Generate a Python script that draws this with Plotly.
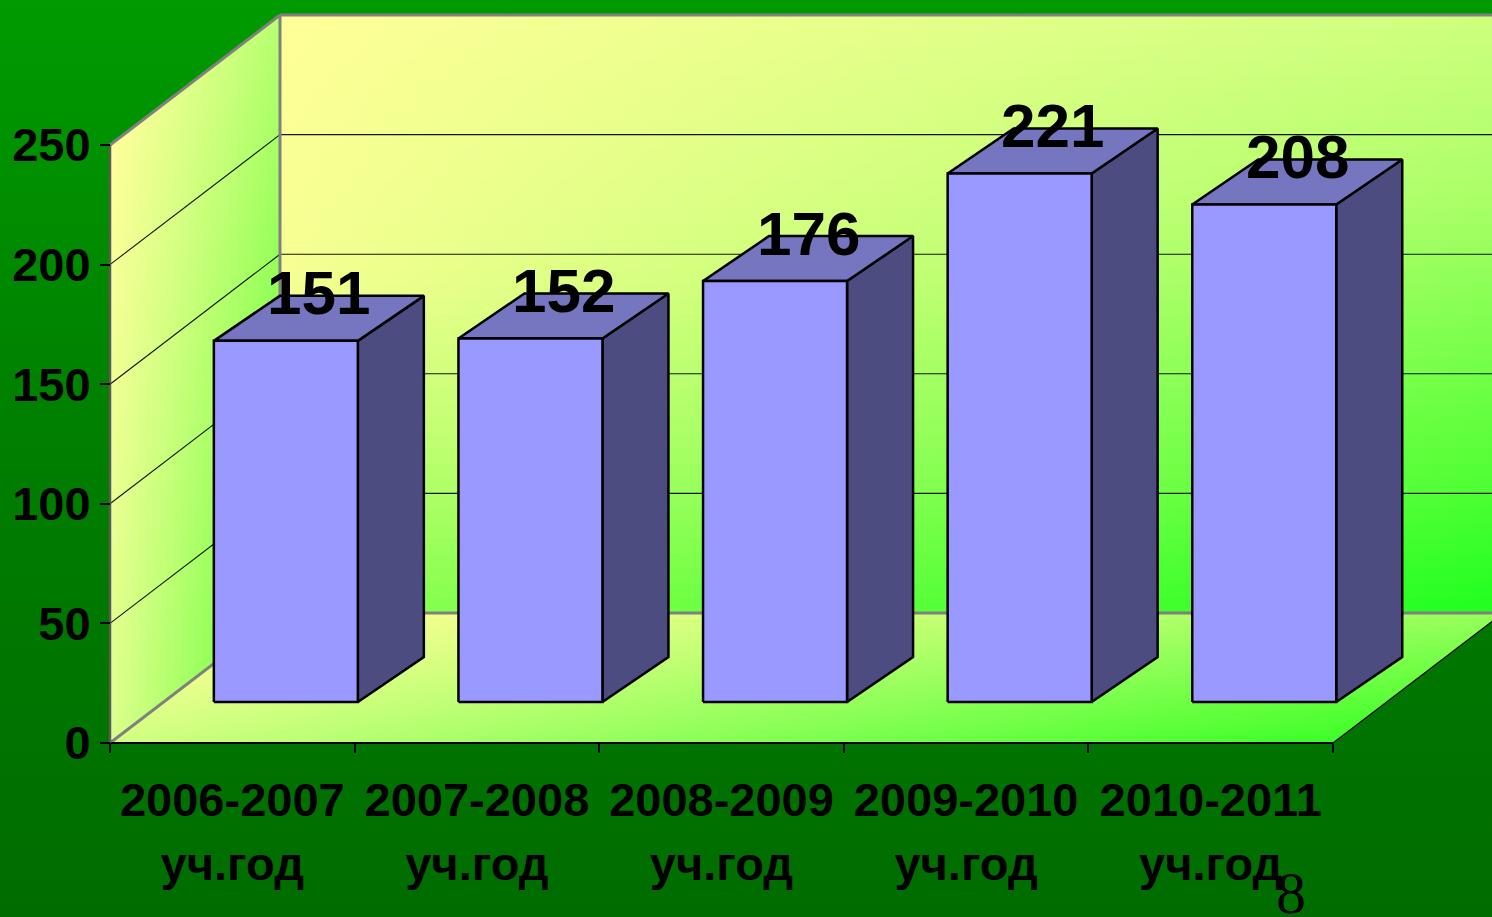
import plotly.graph_objects as go

# ---------------- data ----------------
category_years = ["2006-2007", "2007-2008", "2008-2009", "2009-2010", "2010-2011"]
category_suffix = ["уч.год", "уч.год", "уч.год", "уч.год", "уч.год"]
values = [151, 152, 176, 221, 208]
y_ticks = [0, 50, 100, 150, 200, 250]
slide_number = "8"

# ---------------- geometry (projection of the pseudo-3D box) ----------------
W, H = 1492, 917
X0_PX, Y0_PX = 110, 743          # pixel of the front origin
UX = 244.6                        # px per category
UY = 2.392                        # px per value unit
YMAX = 250
N = len(category_years)

DX = 170 / UX                     # full depth shift (category units)
DY = 130 / UY                     # full depth shift (value units)
BAR_W = 144 / UX
BAR_OX = 0.315 * DX
BAR_OY = 0.315 * DY
BAR_DX = 66 / UX
BAR_DY = 45 / UY

XR = [-X0_PX / UX, (W - X0_PX) / UX]
YR = [-(H - Y0_PX) / UY, Y0_PX / UY]

FONT = "Arial, Liberation Sans, sans-serif"


def lerp(c1, c2, t):
    return tuple(c1[k] + (c2[k] - c1[k]) * t for k in range(3))


def interp_table(table, s):
    for (s0, c0), (s1, c1) in zip(table[:-1], table[1:]):
        if s0 <= s <= s1:
            return lerp(c0, c1, (s - s0) / (s1 - s0) if s1 > s0 else 0)
    return table[-1][1] if s > table[-1][0] else table[0][1]


def rgb(c):
    return "rgb(%d,%d,%d)" % tuple(int(round(v)) for v in c)


fig = go.Figure()


def poly(xs, ys, fill=None, line_color=None, line_width=0, gradient=None):
    kw = dict(x=xs, y=ys, mode="lines", hoverinfo="skip", showlegend=False)
    if fill is not None or gradient is not None:
        kw["fill"] = "toself"
        kw["fillcolor"] = fill if fill is not None else "rgba(0,0,0,0)"
    if gradient is not None:
        kw["fillgradient"] = gradient
    kw["line"] = dict(color=line_color or "rgba(0,0,0,0)", width=line_width)
    fig.add_trace(go.Scatter(**kw))


# ---------------- slide background ----------------
poly([XR[0], XR[1], XR[1], XR[0], XR[0]], [YR[0], YR[0], YR[1], YR[1], YR[0]],
     gradient=dict(type="vertical", start=YR[0], stop=YR[1],
                   colorscale=[[0, "rgb(0,108,0)"], [0.55, "rgb(0,128,0)"], [1, "rgb(0,155,0)"]]))

# ---------------- back wall (stripes with horizontal gradient) ----------------
back_left = [(0, (255, 255, 152)), (0.45, (246, 255, 146)), (0.7, (210, 255, 124)), (1, (145, 255, 82))]
back_right = [(0, (205, 255, 125)), (0.3, (170, 255, 104)), (0.5, (130, 255, 80)),
              (0.75, (85, 255, 55)), (1, (30, 255, 30))]
NB = 40
bw_bottom, bw_top = DY, YMAX + DY
h = (bw_top - bw_bottom) / NB
for i in range(NB):
    s = (i + 0.5) / NB          # 0 = top
    yt = bw_top - i * h
    yb = max(bw_top - (i + 1) * h - h * 0.4, bw_bottom)
    lc = interp_table(back_left, s)
    rc = interp_table(back_right, s)
    poly([DX, N + DX, N + DX, DX, DX], [yb, yb, yt, yt, yb],
         gradient=dict(type="horizontal", start=DX, stop=N + DX,
                       colorscale=[[0, rgb(lc)], [1, rgb(rc)]]))

# ---------------- left wall (vertical strips with vertical gradient) ----------------
lw_top = [(0, (255, 255, 156)), (1, (185, 255, 112))]
lw_bot = [(0, (222, 255, 140)), (1, (95, 255, 52))]
NL = 24
for i in range(NL):
    a = DX * i / NL
    b = min(DX * (i + 1.4) / NL, DX)
    t = (i + 0.5) / NL
    ya, yb_ = a / DX * DY, b / DX * DY
    tc = interp_table(lw_top, t)
    bc = interp_table(lw_bot, t)
    poly([a, b, b, a, a], [ya, yb_, YMAX + yb_, YMAX + ya, ya],
         gradient=dict(type="vertical", start=ya, stop=YMAX + yb_,
                       colorscale=[[0, rgb(bc)], [1, rgb(tc)]]))

# ---------------- floor (depth stripes with horizontal gradient) ----------------
fl_front = [(0, (210, 255, 130)), (1, (60, 255, 40))]
fl_back = [(0, (255, 255, 150)), (1, (150, 255, 90))]
NF = 20
for i in range(NF):
    t0 = i / NF
    t1 = min((i + 1.4) / NF, 1)
    tm = (i + 0.5) / NF
    fc = lerp(fl_front[0][1], fl_back[0][1], tm)
    rc = lerp(fl_front[1][1], fl_back[1][1], tm)
    poly([t0 * DX, N + t0 * DX, N + t1 * DX, t1 * DX, t0 * DX],
         [t0 * DY, t0 * DY, t1 * DY, t1 * DY, t0 * DY],
         gradient=dict(type="horizontal", start=tm * DX, stop=N + tm * DX,
                       colorscale=[[0, rgb(fc)], [1, rgb(rc)]]))

# ---------------- grid lines ----------------
for v in y_ticks[1:-1]:
    poly([DX, N + DX], [v + DY, v + DY], line_color="rgba(10,10,10,0.95)", line_width=1.1)
    poly([0, DX], [v, v + DY], line_color="rgba(10,10,10,0.95)", line_width=1.1)

# ---------------- frame edges ----------------
GRAY = "rgb(128,128,128)"
poly([DX, N + DX], [YMAX + DY, YMAX + DY], line_color=GRAY, line_width=3)        # back top
poly([DX, DX], [DY, YMAX + DY], line_color=GRAY, line_width=3)                   # back left
poly([0, DX], [YMAX, YMAX + DY], line_color=GRAY, line_width=3)                  # left-wall top
poly([0, DX], [0, DY], line_color=GRAY, line_width=3)                            # left-wall bottom
poly([DX, N + DX], [DY, DY], line_color=GRAY, line_width=3)                      # floor back edge
poly([0, N], [0, 0], line_color="black", line_width=2)                          # floor front edge
poly([N, N + DX], [0, DY], line_color="black", line_width=1.2)                  # floor right edge
poly([0, 0], [0, YMAX], line_color="rgb(90,90,90)", line_width=2.5)             # value axis line

# ---------------- bars ----------------
FRONT = "rgb(153,153,255)"
TOP = "rgb(117,117,192)"
SIDE = "rgb(76,76,128)"
for i, v in enumerate(values):
    xc = i + 0.5 + BAR_OX
    xl, xr = xc - BAR_W / 2, xc + BAR_W / 2
    yb, yt = BAR_OY, v + BAR_OY
    poly([xr, xr + BAR_DX, xr + BAR_DX, xr, xr], [yb, yb + BAR_DY, yt + BAR_DY, yt, yb],
         fill=SIDE, line_color="black", line_width=2.5)
    poly([xl, xr, xr + BAR_DX, xl + BAR_DX, xl], [yt, yt, yt + BAR_DY, yt + BAR_DY, yt],
         fill=TOP, line_color="black", line_width=2.5)
    poly([xl, xr, xr, xl, xl], [yb, yb, yt, yt, yb],
         fill=FRONT, line_color="black", line_width=2.5)
    fig.add_annotation(x=xc + BAR_DX / 2, y=yt + BAR_DY, text=str(v), showarrow=False,
                       xanchor="center", yanchor="middle", yshift=3,
                       font=dict(family=FONT, size=62, color="black", weight="bold"))

# invisible trace to carry the second category axis (second label line)
fig.add_trace(go.Scatter(x=[XR[0]], y=[YR[0]], xaxis="x2", mode="markers",
                         marker=dict(opacity=0), hoverinfo="skip", showlegend=False))

# slide number
fig.add_annotation(xref="paper", yref="paper", x=1291 / W, y=1 - 893 / H, text=slide_number,
                   showarrow=False, xanchor="center", yanchor="middle",
                   font=dict(family="Times New Roman, Liberation Serif, serif", size=60, color="black"))

tickfont = dict(family=FONT, size=47, color="black", weight="bold")
fig.update_layout(
    width=W, height=H,
    margin=dict(l=0, r=0, t=0, b=0, pad=0),
    paper_bgcolor="rgb(0,130,0)",
    plot_bgcolor="rgba(0,0,0,0)",
    showlegend=False,
    xaxis=dict(range=XR, anchor="free", position=(H - Y0_PX) / H,
               tickmode="array", tickvals=[i + 0.5 for i in range(N)], ticktext=category_years,
               ticks="", showgrid=False, zeroline=False, showline=False, fixedrange=True,
               tickfont=tickfont, ticklabelstandoff=25,
               minor=dict(tickmode="array", tickvals=list(range(N + 1)), ticks="outside",
                          ticklen=9, tickwidth=1.5, tickcolor="black", showgrid=False)),
    xaxis2=dict(range=XR, anchor="free", overlaying="x", position=(H - Y0_PX) / H, side="bottom",
                tickmode="array", tickvals=[i + 0.5 for i in range(N)], ticktext=category_suffix,
                ticks="", showgrid=False, zeroline=False, showline=False, fixedrange=True,
                tickfont=tickfont, ticklabelstandoff=89),
    yaxis=dict(range=YR, anchor="free", position=X0_PX / W,
               tickmode="array", tickvals=y_ticks, ticks="outside", ticklen=10,
               tickwidth=1.5, tickcolor="black",
               showgrid=False, zeroline=False, showline=False, fixedrange=True,
               tickfont=tickfont, ticklabelstandoff=0),
)

fig.write_html("out.html", config={"displayModeBar": False},
               post_script="document.body.style.margin='0px';document.body.style.overflow='hidden';")
